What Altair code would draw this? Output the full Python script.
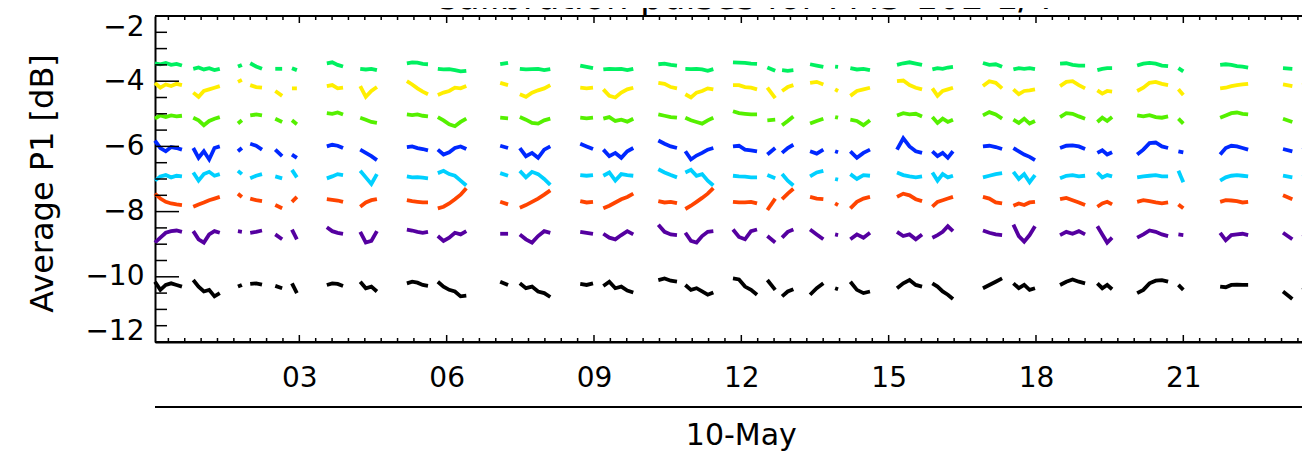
import altair as alt
import numpy as np
import pandas as pd

# ---- data -------------------------------------------------------------
# pass (segment) start / end times in hours of 10-May
seg_start = [0.06, 0.84, 1.75, 2.00, 2.51, 2.85, 3.56, 4.24, 5.19, 5.82, 7.09,
             7.49, 8.72, 9.19, 10.31, 10.86, 11.83, 12.53, 12.83, 13.40, 13.91,
             14.22, 15.17, 15.89, 16.92, 17.54, 18.49, 19.25, 20.06, 20.90,
             21.75, 23.03, 23.44]
seg_end = [0.61, 1.38, 1.83, 2.24, 2.65, 2.95, 3.89, 4.58, 5.62, 6.40, 7.25,
           8.11, 8.98, 9.80, 10.69, 11.43, 12.32, 12.69, 13.06, 13.67, 13.97,
           14.62, 15.68, 16.31, 17.31, 17.98, 19.00, 19.55, 20.69, 21.00,
           22.32, 23.22, 23.69]

green = [
    [-3.45, -3.48, -3.44, -3.50, -3.47, -3.52], [-3.62, -3.58, -3.64, -3.60, -3.66, -3.62],
    [-3.55, -3.50], [-3.45, -3.55, -3.62], [-3.62, -3.62], [-3.60, -3.66],
    [-3.45, -3.42, -3.50, -3.55], [-3.62, -3.64, -3.62, -3.66], [-3.45, -3.42, -3.43, -3.47, -3.48],
    [-3.62, -3.64, -3.63, -3.66, -3.70, -3.68], [-3.48, -3.44], [-3.62, -3.64, -3.63, -3.62, -3.66, -3.63],
    [-3.52, -3.56, -3.60], [-3.64, -3.62, -3.63, -3.62, -3.66, -3.62], [-3.48, -3.46, -3.50, -3.52],
    [-3.62, -3.63, -3.62, -3.64, -3.68, -3.63], [-3.42, -3.43, -3.44, -3.46, -3.47], [-3.58, -3.68],
    [-3.66, -3.68, -3.66], [-3.48, -3.52, -3.56], [-3.55, -3.56], [-3.60, -3.64, -3.62, -3.66],
    [-3.50, -3.45, -3.42, -3.46, -3.50], [-3.64, -3.60, -3.62, -3.58, -3.56], [-3.44, -3.50, -3.48, -3.56],
    [-3.64, -3.60, -3.62, -3.60, -3.63], [-3.46, -3.45, -3.50, -3.52, -3.52], [-3.66, -3.62, -3.60, -3.60],
    [-3.52, -3.46, -3.44, -3.46, -3.52, -3.54], [-3.60, -3.70], [-3.50, -3.48, -3.50, -3.54, -3.55, -3.58],
    [-3.60, -3.62], [-3.52, -3.48, -3.50, -3.50],
]
yellow = [
    [-4.05, -4.20, -4.10, -4.15, -4.08, -4.12], [-4.35, -4.48, -4.30, -4.25, -4.20, -4.15],
    [-4.02, -3.96], [-4.12, -4.18, -4.20], [-4.30, -4.45], [-4.22, -4.22],
    [-4.15, -4.12, -4.22, -4.20], [-4.15, -4.48, -4.30, -4.18], [-4.00, -4.10, -4.22, -4.32, -4.40],
    [-4.42, -4.35, -4.30, -4.20, -4.22, -4.15], [-4.05, -4.12], [-4.40, -4.48, -4.35, -4.28, -4.22, -4.12],
    [-4.20, -4.22, -4.20], [-4.25, -4.45, -4.50, -4.35, -4.25, -4.20], [-4.05, -4.08, -4.18, -4.22],
    [-4.40, -4.50, -4.35, -4.30, -4.22, -4.25], [-4.12, -4.12, -4.18, -4.20, -4.25], [-4.20, -4.52],
    [-4.30, -4.18, -4.12], [-4.05, -4.02, -4.10], [-4.25, -4.30], [-4.45, -4.30, -4.25, -4.20],
    [-4.00, -3.98, -4.12, -4.20, -4.25], [-4.22, -4.45, -4.30, -4.25, -4.20], [-4.15, -4.00, -4.05, -4.22],
    [-4.25, -4.40, -4.30, -4.28, -4.25], [-4.15, -4.02, -4.00, -4.12, -4.22], [-4.28, -4.38, -4.30, -4.32],
    [-4.30, -4.20, -4.05, -4.02, -4.08, -4.12], [-4.25, -4.42], [-4.22, -4.20, -4.15, -4.12, -4.10, -4.08],
    [-4.10, -4.15], [-4.05, -4.25, -4.10, -4.15],
]
lime = [
    [-5.15, -5.05, -5.10, -5.05, -5.08, -5.06], [-5.12, -5.20, -5.35, -5.22, -5.15, -5.10],
    [-5.30, -5.20], [-5.05, -5.02, -5.05], [-5.15, -5.25], [-5.20, -5.32],
    [-4.98, -5.00, -4.96, -5.02], [-5.12, -5.18, -5.25, -5.28], [-5.02, -5.04, -5.02, -5.06, -5.08],
    [-5.10, -5.20, -5.32, -5.38, -5.25, -5.15], [-5.12, -5.14], [-5.10, -5.18, -5.28, -5.30, -5.20, -5.15],
    [-5.12, -5.14, -5.12], [-5.15, -5.10, -5.22, -5.18, -5.24, -5.15], [-5.02, -5.06, -5.10, -5.12],
    [-5.12, -5.20, -5.25, -5.30, -5.20, -5.12], [-4.92, -4.98, -5.00, -5.02, -5.02], [-5.20, -5.18],
    [-5.35, -5.22, -5.08], [-5.30, -5.22, -5.15], [-5.10, -5.12], [-5.18, -5.22, -5.35, -5.20],
    [-5.05, -4.98, -5.02, -5.00, -5.08], [-5.10, -5.28, -5.15, -5.25, -5.18], [-5.05, -4.95, -5.02, -5.15],
    [-5.18, -5.28, -5.15, -5.30, -5.22], [-5.10, -4.98, -5.00, -5.08, -5.15], [-5.25, -5.12, -5.22, -5.10],
    [-5.05, -5.08, -5.04, -5.10, -5.12, -5.08], [-5.15, -5.30], [-5.12, -5.05, -4.98, -4.96, -5.00, -5.02],
    [-5.15, -5.25], [-5.10, -5.20, -5.02, -4.98],
]
blue = [
    [-5.82, -6.05, -6.15, -6.02, -6.05, -6.10], [-6.05, -6.35, -6.15, -6.40, -6.05, -6.00],
    [-6.15, -6.05], [-5.92, -5.98, -6.10], [-6.10, -6.30], [-6.25, -6.35],
    [-6.00, -5.95, -5.98, -6.05], [-6.10, -6.20, -6.30, -6.42], [-6.02, -6.00, -6.05, -6.08, -6.12],
    [-6.10, -6.25, -6.18, -6.05, -6.00, -6.08], [-5.98, -6.05], [-6.05, -6.30, -6.20, -6.35, -6.10, -6.00],
    [-5.92, -6.00, -6.08], [-6.10, -6.30, -6.20, -6.35, -6.15, -6.05], [-5.82, -5.92, -6.00, -6.05],
    [-6.15, -6.40, -6.28, -6.20, -6.10, -6.05], [-6.00, -5.98, -6.10, -6.12, -6.15], [-6.25, -6.05],
    [-6.20, -6.05, -5.95], [-6.15, -6.22, -6.10], [-6.15, -6.18], [-6.15, -6.35, -6.20, -6.10],
    [-6.10, -5.75, -6.00, -6.15, -6.20], [-6.15, -6.30, -6.20, -6.35, -6.15], [-6.00, -5.98, -6.02, -6.08],
    [-6.05, -6.15, -6.25, -6.32, -6.42], [-6.05, -5.98, -5.97, -6.00, -6.08], [-6.20, -6.12, -6.25, -6.18],
    [-6.25, -6.10, -5.90, -5.88, -6.00, -6.05], [-6.15, -6.18], [-6.25, -6.05, -5.98, -6.00, -6.05, -6.10],
    [-6.08, -6.15], [-6.10, -5.92, -6.05, -6.00],
]
cyan = [
    [-7.05, -6.92, -6.88, -6.95, -6.90, -6.92], [-6.80, -7.05, -6.85, -6.78, -6.90, -6.85],
    [-6.75, -6.85], [-6.98, -6.90, -6.85], [-6.92, -6.98], [-6.72, -6.95],
    [-6.98, -6.92, -6.85, -6.88], [-6.75, -6.95, -7.15, -6.85], [-6.92, -6.95, -6.94, -6.96, -6.98],
    [-6.82, -6.75, -6.85, -6.90, -7.05, -7.20], [-6.82, -6.90], [-6.75, -6.95, -6.78, -6.85, -7.00, -7.18],
    [-6.88, -6.90, -6.88], [-6.90, -6.80, -7.05, -6.85, -6.88, -6.90], [-6.70, -6.80, -6.88, -6.95],
    [-6.80, -6.72, -6.90, -6.85, -7.05, -7.20], [-6.90, -6.92, -6.93, -6.95, -6.95], [-6.88, -6.98],
    [-6.85, -7.05, -7.20], [-6.92, -6.80, -6.75], [-7.00, -7.02], [-6.85, -7.00, -6.88, -6.90],
    [-6.80, -6.88, -6.92, -6.95, -6.92], [-6.80, -7.05, -6.85, -6.95, -6.90], [-6.95, -6.90, -6.85, -6.82],
    [-6.78, -7.00, -6.85, -7.10, -6.88], [-6.98, -6.90, -6.88, -6.92, -6.90], [-6.80, -6.95, -6.88, -6.92],
    [-6.95, -6.92, -6.90, -6.88, -6.92, -6.92], [-6.75, -7.10], [-7.05, -6.95, -6.90, -6.88, -6.90, -6.92],
    [-6.90, -6.95], [-6.85, -7.00, -6.95, -6.90],
]
orange = [
    [-7.45, -7.60, -7.70, -7.75, -7.78, -7.80], [-7.85, -7.78, -7.72, -7.65, -7.60, -7.55],
    [-7.45, -7.55], [-7.60, -7.65, -7.68], [-7.80, -7.90], [-7.70, -7.55],
    [-7.62, -7.64, -7.66, -7.70], [-7.85, -7.72, -7.65, -7.62], [-7.65, -7.68, -7.70, -7.72, -7.72],
    [-7.90, -7.85, -7.75, -7.62, -7.48, -7.28], [-7.70, -7.78], [-7.88, -7.80, -7.70, -7.60, -7.48, -7.35],
    [-7.68, -7.72, -7.70], [-7.90, -7.82, -7.72, -7.62, -7.55, -7.45], [-7.68, -7.72, -7.70, -7.74],
    [-7.92, -7.82, -7.70, -7.58, -7.45, -7.28], [-7.70, -7.72, -7.72, -7.70, -7.75], [-7.95, -7.60],
    [-7.62, -7.45, -7.30], [-7.55, -7.60, -7.62], [-7.75, -7.80], [-7.90, -7.70, -7.60, -7.55],
    [-7.55, -7.45, -7.50, -7.62, -7.68], [-7.85, -7.70, -7.65, -7.60, -7.55], [-7.55, -7.60, -7.72, -7.75],
    [-7.82, -7.75, -7.80, -7.72, -7.70], [-7.62, -7.58, -7.65, -7.72, -7.80], [-7.85, -7.75, -7.70, -7.78],
    [-7.70, -7.65, -7.68, -7.72, -7.75, -7.72], [-7.78, -7.90], [-7.70, -7.65, -7.66, -7.68, -7.72, -7.70],
    [-7.50, -7.62], [-7.55, -7.45, -7.58, -7.60],
]
purple = [
    [-8.95, -8.80, -8.65, -8.60, -8.58, -8.62], [-8.60, -8.85, -8.95, -8.70, -8.60, -8.65],
    [-8.60, -8.62], [-8.65, -8.62, -8.58], [-8.70, -8.85], [-8.55, -8.85],
    [-8.48, -8.60, -8.65, -8.68], [-8.62, -8.95, -8.90, -8.60], [-8.55, -8.58, -8.62, -8.65, -8.62],
    [-8.75, -8.90, -8.80, -8.65, -8.70, -8.60], [-8.68, -8.68], [-8.70, -8.85, -8.95, -8.75, -8.60, -8.65],
    [-8.62, -8.65, -8.68], [-8.68, -8.80, -8.85, -8.72, -8.60, -8.70], [-8.40, -8.62, -8.70, -8.72],
    [-8.65, -8.90, -8.95, -8.75, -8.62, -8.60], [-8.55, -8.78, -8.85, -8.60, -8.55], [-8.75, -8.95],
    [-8.80, -8.62, -8.55], [-8.55, -8.70, -8.85], [-8.70, -8.72], [-8.85, -8.70, -8.80, -8.65],
    [-8.62, -8.75, -8.70, -8.85, -8.70], [-8.80, -8.72, -8.62, -8.45, -8.60], [-8.58, -8.65, -8.70, -8.72],
    [-8.40, -8.75, -8.92, -8.72, -8.45], [-8.72, -8.62, -8.68, -8.60, -8.70], [-8.45, -8.70, -8.95, -8.80],
    [-8.80, -8.70, -8.58, -8.62, -8.70, -8.75], [-8.70, -8.72], [-8.65, -8.88, -8.72, -8.70, -8.68, -8.72],
    [-8.65, -8.85], [-8.70, -8.90, -8.62, -8.70],
]
black = [
    [-10.15, -10.40, -10.25, -10.20, -10.25, -10.30], [-10.10, -10.30, -10.45, -10.40, -10.60, -10.50],
    [-10.30, -10.25], [-10.22, -10.20, -10.24], [-10.28, -10.35], [-10.20, -10.50],
    [-10.25, -10.20, -10.22, -10.28], [-10.15, -10.35, -10.30, -10.45], [-10.20, -10.15, -10.18, -10.25, -10.28],
    [-10.15, -10.30, -10.40, -10.45, -10.60, -10.58], [-10.15, -10.25], [-10.20, -10.35, -10.30, -10.45, -10.50, -10.62],
    [-10.22, -10.25, -10.20], [-10.28, -10.15, -10.35, -10.30, -10.42, -10.48], [-10.10, -10.05, -10.12, -10.15],
    [-10.25, -10.40, -10.35, -10.45, -10.55, -10.48], [-10.05, -10.08, -10.30, -10.40, -10.55], [-10.10, -10.40],
    [-10.60, -10.45, -10.38], [-10.55, -10.35, -10.20], [-10.35, -10.38], [-10.15, -10.40, -10.50, -10.45],
    [-10.35, -10.20, -10.10, -10.25, -10.30], [-10.20, -10.30, -10.45, -10.55, -10.68], [-10.35, -10.25, -10.15, -10.05],
    [-10.20, -10.35, -10.25, -10.40, -10.35], [-10.25, -10.15, -10.08, -10.15, -10.20], [-10.20, -10.35, -10.25, -10.38],
    [-10.50, -10.40, -10.20, -10.12, -10.10, -10.15], [-10.25, -10.40], [-10.30, -10.32, -10.25, -10.24, -10.25, -10.25],
    [-10.45, -10.68], [-10.40, -10.15, -10.22, -10.30],
]

series_names = ["green", "yellow", "lime", "blue", "cyan", "orange", "purple", "black"]
series_colors = ["#00f060", "#ffee00", "#55f000", "#0028ff", "#00d0ff", "#ff4400", "#5500a0", "#000000"]
series_values = [green, yellow, lime, blue, cyan, orange, purple, black]

x_major = [3, 6, 9, 12, 15, 18, 21]
x_minor = [i / 3 for i in range(1, 71) if i % 9 != 0]
y_major = [-12, -10, -8, -6, -4, -2]
y_minor = [-11.5, -11, -10.5, -9.5, -9, -8.5, -7.5, -7, -6.5, -5.5, -5, -4.5, -3.5, -3, -2.5]
y_labels = [-12, -10, -8, -6, -4, -2]

title_text = "Calibration pulses for FM3-102 1/4"
y_title = "Average P1 [dB]"
date_label = "10-May"

# ---- build table ------------------------------------------------------
rows = []
for name, segs in zip(series_names, series_values):
    for k, vals in enumerate(segs):
        ts = np.linspace(seg_start[k], seg_end[k], len(vals))
        for t, v in zip(ts, vals):
            rows.append({"series": name, "seg": k, "hour": float(t), "value": v})
df = pd.DataFrame(rows)

W, H = 1147, 326
PX_PER_HOUR = 49.11
X0 = 0.061
FONT = "DejaVu Sans"
xs = alt.Scale(domain=[X0, X0 + W / PX_PER_HOUR], nice=False, zero=False)
ys = alt.Scale(domain=[-12, -2], nice=False, zero=False)

xaxis = alt.Axis(
    values=x_major, labelExpr="datum.value < 10 ? '0' + datum.value : '' + datum.value",
    ticks=False, tickSize=0, grid=False, domainColor="black", domainWidth=2,
    labelFont=FONT, labelFontSize=28, labelColor="black", labelPadding=22,
    labelFlush=False, labelOverlap=False, title=None)
yaxis = alt.Axis(
    values=y_labels, ticks=False, tickSize=0, grid=False, domainColor="black", domainWidth=2,
    labelFont=FONT, labelFontSize=28, labelColor="black", labelPadding=11,
    labelFlush=True, labelFlushOffset=3, labelOverlap=False,
    title=y_title, titleFont=FONT, titleFontSize=32, titleFontWeight="normal", titleColor="black",
    titleAngle=270, titleX=-113, titleY=H / 2 + 4, titleAlign="center", titleBaseline="middle")

lines = alt.Chart(df).mark_line(strokeWidth=3.8).encode(
    x=alt.X("hour:Q", scale=xs, axis=xaxis, title=None),
    y=alt.Y("value:Q", scale=ys, axis=yaxis, title=y_title),
    color=alt.Color("series:N", scale=alt.Scale(domain=series_names, range=series_colors), legend=None),
    detail="seg:N",
)

def xticks(vals, y0, y1):
    return alt.Chart(pd.DataFrame({"v": vals})).mark_rule(color="black", strokeWidth=1.5).encode(
        x=alt.X("v:Q", scale=xs, axis=xaxis, title=None), y=alt.value(y0), y2=alt.value(y1))

def yticks(vals, length):
    return alt.Chart(pd.DataFrame({"v": vals})).mark_rule(color="black", strokeWidth=1.5).encode(
        y=alt.Y("v:Q", scale=ys, axis=yaxis, title=y_title), x=alt.value(0), x2=alt.value(length))

top_border = alt.Chart(pd.DataFrame({"a": [0]})).mark_rule(color="black", strokeWidth=2).encode(
    x=alt.value(0), x2=alt.value(W + 12), y=alt.value(0))
bottom_border = alt.Chart(pd.DataFrame({"a": [0]})).mark_rule(color="black", strokeWidth=2).encode(
    x=alt.value(0), x2=alt.value(W + 12), y=alt.value(H))
date_line = alt.Chart(pd.DataFrame({"a": [0]})).mark_rule(color="black", strokeWidth=2).encode(
    x=alt.value(0), x2=alt.value(W + 12), y=alt.value(391))
date_text = alt.Chart(pd.DataFrame({"t": [date_label], "h": [12]})).mark_text(
    font=FONT, fontSize=30, color="black", baseline="middle", align="center").encode(
    x=alt.X("h:Q", scale=xs, axis=xaxis, title=None), y=alt.value(420), text="t:N")
title = alt.Chart(pd.DataFrame({"t": [title_text]})).mark_text(
    font=FONT, fontSize=36, color="black", baseline="alphabetic", align="center").encode(
    x=alt.value(588), y=alt.value(-7), text="t:N")

chart = alt.layer(
    lines,
    xticks(x_major, H, H - 7), xticks(x_minor, H, H - 4),
    xticks(x_major, 0, 7), xticks(x_minor, 0, 4),
    yticks(y_major, 24), yticks(y_minor, 12),
    top_border, bottom_border, date_line, date_text, title,
).properties(
    width=W, height=H,
    padding={"left": 147, "top": 8, "right": 0, "bottom": 109},
    autosize=alt.AutoSizeParams(type="none"),
).configure_view(stroke=None)

chart.save("out.html", embed_options={"renderer": "svg", "actions": False})
